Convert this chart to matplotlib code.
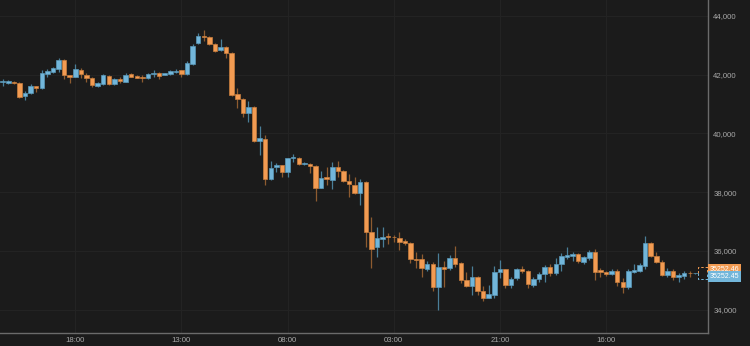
import numpy as np
import matplotlib.pyplot as plt
import matplotlib.transforms as mtransforms

# hourly candles, first one at 05:00
opens = [41740, 41700, 41760, 41710, 41280, 41380, 41600, 41530, 42030, 42100,
         42190, 42500, 41980, 41920, 42165, 42000, 41870, 41620, 41690, 41965,
         41670, 41840, 41755, 42010, 41950, 41915, 41870, 42010, 42060, 42000,
         42030, 42085, 42145, 42030, 42360, 43070, 43320, 43275, 43030, 42825,
         42935, 42730, 41330, 41170, 40680, 40905, 39750, 39820, 38440, 38845,
         38910, 38675, 39150, 39160, 38960, 38960, 38890, 38150, 38500, 38415,
         38865, 38720, 38380, 38245, 37960, 38355, 36655, 36125, 36410, 36500,
         36490, 36455, 36340, 36265, 35730, 35720, 35380, 35560, 34785, 35470,
         35410, 35750, 35585, 35015, 34810, 35110, 34625, 34410, 34505, 35300,
         35380, 34845, 35070, 35390, 35320, 34845, 35040, 35210, 35445, 35260,
         35560, 35805, 35840, 35890, 35635, 35775, 35955, 35340, 35275, 35220,
         35320, 34955, 34765, 35275, 35310, 35490, 36265, 35840, 35635, 35185,
         35330, 35115, 35160, 35260, 35240]
highs = [41840, 41810, 41790, 41730, 41440, 41670, 41620, 42150, 42190, 42260,
         42550, 42530, 42000, 42360, 42230, 42040, 41925, 41760, 42010, 42000,
         41880, 41900, 42050, 42040, 42000, 41985, 42050, 42145, 42080, 42060,
         42150, 42200, 42160, 42460, 43050, 43400, 43515, 43320, 43060, 43210,
         42960, 42760, 41550, 41190, 41100, 40930, 40250, 39940, 39060, 39000,
         38930, 39150, 39300, 39180, 39040, 38980, 38910, 38720, 38865, 39040,
         39060, 38740, 38620, 38500, 38440, 38380, 37165, 36800, 36805, 36600,
         36550, 36655, 36400, 36320, 35975, 35900, 35650, 35640, 35925, 35670,
         35865, 36170, 35620, 35300, 35500, 35150, 34800, 34845, 35500, 35690,
         35400, 35120, 35430, 35500, 35340, 35120, 35290, 35520, 35550, 35750,
         35920, 36125, 35950, 35920, 35840, 36050, 36070, 35420, 35330, 35400,
         35380, 35070, 35380, 35560, 35600, 36510, 36310, 35950, 35700, 35420,
         35380, 35260, 35330, 35330, 35260]
lows = [41620, 41680, 41690, 41190, 41134, 41330, 41420, 41500, 41930, 42060,
        42100, 41840, 41720, 41900, 41870, 41755, 41565, 41590, 41660, 41660,
        41660, 41700, 41740, 41900, 41870, 41755, 41850, 41915, 41850, 41990,
        42000, 42050, 41920, 41985, 42340, 43050, 43140, 43000, 42780, 42800,
        42570, 41280, 40850, 40570, 40400, 39720, 39265, 38245, 38410, 38700,
        38525, 38525, 39040, 38930, 38925, 38665, 37710, 38140, 38245, 38100,
        38525, 38330, 37845, 37940, 37560, 36150, 35410, 35785, 36125, 36250,
        36300, 36035, 36200, 35580, 35410, 35105, 35330, 34650, 33990, 34785,
        35355, 35470, 34900, 34785, 34505, 34500, 34300, 34390, 34410, 35070,
        34730, 34730, 35020, 35250, 34730, 34760, 34960, 34935, 35150, 35185,
        35330, 35720, 35660, 35600, 35560, 35700, 35015, 35100, 35150, 35170,
        34810, 34580, 34700, 35240, 35280, 35380, 35800, 35600, 35150, 35110,
        35020, 34955, 35040, 35130, 35230]
closes = [41760, 41780, 41700, 41250, 41380, 41610, 41530, 42040, 42120, 42210,
          42500, 41970, 41920, 42180, 42030, 41880, 41645, 41700, 41975, 41690,
          41850, 41790, 41975, 41925, 41895, 41870, 42015, 42060, 41950, 42040,
          42110, 42130, 42030, 42380, 42970, 43300, 43265, 43030, 42810, 42935,
          42730, 41300, 41170, 40680, 40905, 39750, 39840, 38440, 38830, 38910,
          38675, 39150, 39200, 38950, 39000, 38890, 38150, 38470, 38440, 38845,
          38720, 38390, 38270, 37960, 38355, 36655, 36055, 36430, 36465, 36470,
          36460, 36320, 36285, 35720, 35700, 35410, 35560, 34785, 35470, 35390,
          35775, 35545, 35015, 34820, 35110, 34625, 34390, 34530, 35300, 35380,
          34845, 35040, 35390, 35320, 34870, 35040, 35210, 35455, 35260, 35560,
          35830, 35865, 35900, 35670, 35785, 35955, 35300, 35270, 35220, 35330,
          34935, 34765, 35310, 35355, 35515, 36265, 35840, 35635, 35185, 35330,
          35125, 35185, 35260, 35240, 35252]

last_ask = 35252.46
last_bid = 35252.45
live_box = [35050, 35450]  # dashed box of the forming candle

tick_pos = [13, 32, 51, 70, 89, 108]
tick_labels = ["18:00", "13:00", "08:00", "03:00", "21:00", "16:00"]
y_ticks = [34000, 36000, 38000, 40000, 42000, 44000]

BG = "#1b1b1b"
BLUE = "#72b6da"
ORANGE = "#f29b52"
BLUE_W = "#4a7e98"
ORANGE_W = "#8e5b30"

o = np.array(opens, float)
h = np.array(highs, float)
l = np.array(lows, float)
c = np.array(closes, float)
x = np.arange(len(o))
up = c >= o

fig = plt.figure(figsize=(7.5, 3.46), dpi=100, facecolor=BG)
ax = fig.add_axes([0, 0.0376, 0.9436, 0.9624], facecolor=BG)

# wicks
ax.vlines(x[up], l[up], h[up], color=BLUE_W, lw=0.9, zorder=2)
ax.vlines(x[~up], l[~up], h[~up], color=ORANGE_W, lw=0.9, zorder=2)

# bodies
body = np.maximum(np.abs(c - o), 25)
bottom = np.minimum(o, c)
ax.bar(x[up], body[up], bottom=bottom[up], width=0.8, color=BLUE,
       edgecolor="#5a98b8", lw=0.5, zorder=3)
ax.bar(x[~up], body[~up], bottom=bottom[~up], width=0.8, color=ORANGE,
       edgecolor="#c97e3e", lw=0.5, zorder=3)

# forming candle, dashed
bx0, bx1 = len(o) - 0.45, len(o) + 1.05
mid = (live_box[0] + live_box[1]) / 2
ax.plot([bx0, bx0, bx1, bx1], [mid, live_box[1], live_box[1], mid],
        color=ORANGE, lw=0.7, ls=(0, (2.5, 2)), zorder=3, clip_on=False)
ax.plot([bx0, bx0, bx1, bx1], [mid, live_box[0], live_box[0], mid],
        color=BLUE, lw=0.7, ls=(0, (2.5, 2)), zorder=3, clip_on=False)

ax.set_xlim(-0.48, 126.2)
ax.set_ylim(33212, 44534)

ax.set_xticks(tick_pos)
ax.set_xticklabels(tick_labels)
ax.set_yticks(y_ticks)
ax.set_yticklabels(["{:,}".format(v) for v in y_ticks])
ax.yaxis.tick_right()
ax.tick_params(length=0, colors="#a8a8a8", labelsize=5.6)
ax.tick_params(axis="y", pad=4)
ax.tick_params(axis="x", pad=3)
for t in ax.get_xticklabels() + ax.get_yticklabels():
    t.set_fontfamily("Liberation Sans")

ax.grid(True, color="#232323", lw=0.8, zorder=0)
ax.set_axisbelow(True)
for s in ["left", "top"]:
    ax.spines[s].set_visible(False)
for s in ["right", "bottom"]:
    ax.spines[s].set_color("#6b6b6b")
    ax.spines[s].set_linewidth(1)

# last price labels
trans = mtransforms.blended_transform_factory(ax.transAxes, ax.transData)
ax.text(1.003, last_ask, "{:.2f}".format(last_ask), transform=trans,
        ha="left", va="bottom", fontsize=5.0, color="white",
        family="Liberation Sans", clip_on=False,
        bbox=dict(boxstyle="square,pad=0.3", fc=ORANGE, ec="none"))
ax.text(1.003, last_bid, "{:.2f}".format(last_bid), transform=trans,
        ha="left", va="top", fontsize=5.0, color="white",
        family="Liberation Sans", clip_on=False,
        bbox=dict(boxstyle="square,pad=0.3", fc=BLUE, ec="none"))

fig.savefig("out.png", dpi=100, facecolor=BG)
